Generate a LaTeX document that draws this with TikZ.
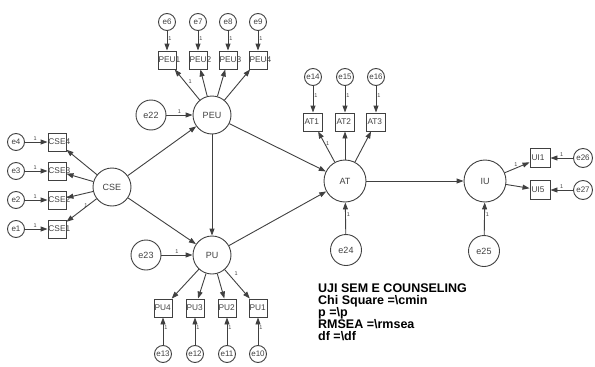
\documentclass[tikz,border=0pt]{standalone}
\usepackage{fontspec}
\setmainfont{Liberation Sans}
\usetikzlibrary{arrows.meta}
\definecolor{ln}{HTML}{404040}
\tikzset{
 lat/.style={circle,draw=ln,line width=0.9pt,minimum size=38pt,inner sep=0pt,font=\fontsize{9}{10}\selectfont,text=ln},
 err/.style={circle,draw=ln,line width=0.9pt,minimum size=17pt,inner sep=0pt,font=\fontsize{8}{9}\selectfont,text=ln},
 errb/.style={err,minimum size=30pt,font=\fontsize{9}{10}\selectfont},
 obs/.style={rectangle,draw=ln,line width=0.9pt,minimum width=18pt,minimum height=18pt,text width=17pt,inner sep=0.5pt,align=left,font=\fontsize{8.3}{9}\selectfont,text=ln},
 arr/.style={draw=ln,line width=0.9pt,-{Triangle[length=7pt,width=5pt]}},
 one/.style={font=\fontsize{5.5}{6}\selectfont,text=ln,inner sep=1pt},
}
\begin{document}
\begin{tikzpicture}[x=1pt,y=-1pt]
\useasboundingbox (0,0) rectangle (595,367);
% latent
\node[lat] (CSE) at (112,187) {CSE};
\node[lat] (PEU) at (212,115) {PEU};
\node[lat] (PU) at (212,255) {PU};
\node[lat,minimum size=42pt] (AT) at (345,181) {AT};
\node[lat,minimum size=42pt] (IU) at (485,181) {IU};
% disturbances
\node[errb] (e22) at (151,115) {e22};
\node[errb] (e23) at (146,255) {e23};
\node[errb,minimum size=31pt] (e24) at (346,250) {e24};
\node[errb,minimum size=31pt] (e25) at (484,251) {e25};
% CSE indicators
\foreach \i/\y in {4/142,3/171,2/200,1/229}{
  \node[obs] (c\i) at (57,\y) {CSE\i};
  \node[err] (e\i) at (16,\y) {e\i};
  \draw[arr] (e\i) -- (c\i) node[one,pos=0.45,above]{1};
}
\foreach \i in {4,3,2}{ \draw[arr] (CSE) -- (c\i); }
\draw[arr] (CSE) -- (c1) node[one,pos=0.45,above right=0pt]{1};
% PEU indicators
\foreach \i/\e/\x in {1/6/167,2/7/198,3/8/228,4/9/258}{
  \node[obs] (p\i) at (\x,60) {PEU\i};
  \node[err] (e\e) at (\x,22) {e\e};
  \draw[arr] (e\e) -- (p\i) node[one,pos=0.4,right]{1};
}
\draw[arr] (PEU) -- (p1) node[one,pos=0.5,above right=0pt]{1};
\foreach \i in {2,3,4}{ \draw[arr] (PEU) -- (p\i); }
% PU indicators
\foreach \i/\e/\x in {4/13/163,3/12/195,2/11/227,1/10/258}{
  \node[obs] (u\i) at (\x,308) {PU\i};
  \node[err] (e\e) at (\x,354) {e\e};
  \draw[arr] (e\e) -- (u\i) node[one,pos=0.65,right]{1};
}
\draw[arr] (PU) -- (u1) node[one,pos=0.3,above right=1pt]{1};
\foreach \i in {2,3,4}{ \draw[arr] (PU) -- (u\i); }
% AT indicators
\foreach \i/\e/\x in {1/14/313,2/15/345,3/16/376}{
  \node[obs,minimum width=19pt] (a\i) at (\x,122) {AT\i};
  \node[err] (e\e) at (\x,77) {e\e};
  \draw[arr] (e\e) -- (a\i) node[one,pos=0.35,right]{1};
}
\draw[arr] (AT) -- (a1) node[one,pos=0.6,right]{1};
\draw[arr] (AT) -- (a2);
\draw[arr] (AT) -- (a3);
% IU indicators
\node[obs,minimum width=20pt,minimum height=19pt] (i1) at (540,158) {UI1};
\node[obs,minimum width=20pt,minimum height=19pt] (i5) at (540,190) {UI5};
\node[err,minimum size=19pt] (e26) at (583,158) {e26};
\node[err,minimum size=19pt] (e27) at (583,190) {e27};
\draw[arr] (e26) -- (i1) node[one,pos=0.5,above]{1};
\draw[arr] (e27) -- (i5) node[one,pos=0.5,above]{1};
\draw[arr] (IU) -- (i1) node[one,pos=0.45,above]{1};
\draw[arr] (IU) -- (i5);
% structural
\draw[arr] (e22) -- (PEU) node[one,pos=0.5,above]{1};
\draw[arr] (e23) -- (PU) node[one,pos=0.5,above]{1};
\draw[arr] (CSE) -- (PEU);
\draw[arr] (CSE) -- (PU);
\draw[arr] (PEU) -- (PU);
\draw[arr] (PEU) -- (AT);
\draw[arr] (PU) -- (AT);
\draw[arr] (AT) -- (IU);
\draw[arr] (e24) -- (AT) node[one,pos=0.63,right]{1};
\draw[arr] (e25) -- (IU) node[one,pos=0.63,right]{1};
% fit block
\node[anchor=north west,inner sep=0pt,align=left,font=\fontsize{12.5}{12}\selectfont\bfseries] (fit) at (318,284)
 {UJI SEM E COUNSELING\\Chi Square =\textbackslash cmin\\p =\textbackslash p\\RMSEA =\textbackslash rmsea\\df =\textbackslash df};
\end{tikzpicture}
\end{document}
